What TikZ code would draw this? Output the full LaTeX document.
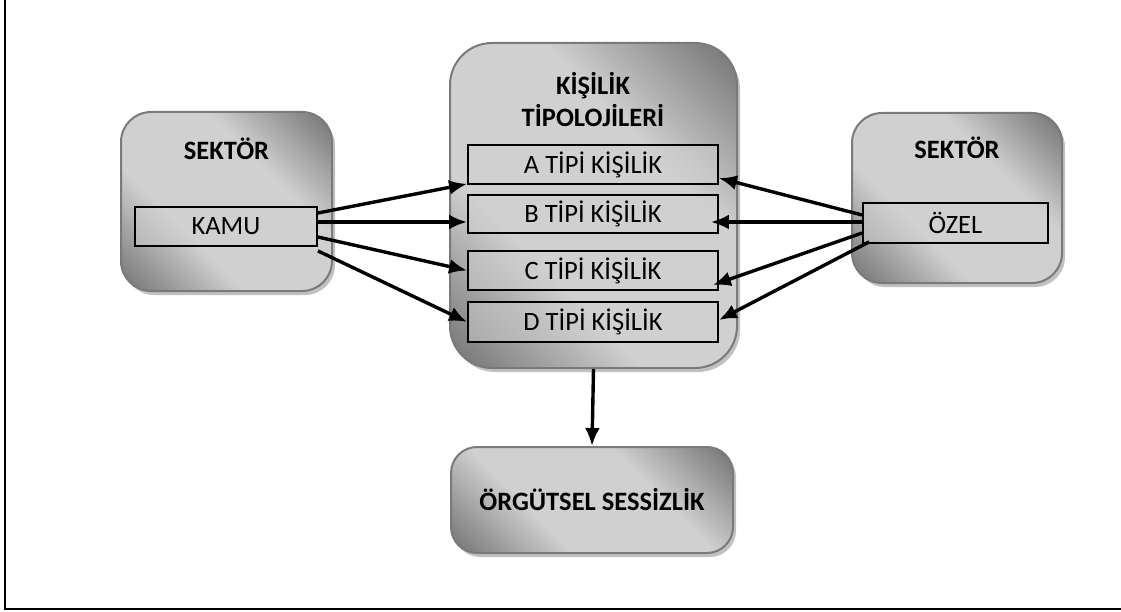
\documentclass[tikz,border=0pt]{standalone}
\usepackage{fontspec}
\setmainfont{Carlito}
\usetikzlibrary{arrows.meta,shadows}

\definecolor{gdark}{HTML}{666666}
\definecolor{glight}{HTML}{D0D0D0}
\definecolor{gedge}{HTML}{7A7A7A}

% diagonal grey gradient: dark corners, broad light middle band
\pgfdeclarehorizontalshading{greybox}{100bp}{%
  color(0bp)=(gdark); color(12bp)=(gdark); color(37bp)=(glight);
  color(63bp)=(glight); color(88bp)=(gdark); color(100bp)=(gdark)}

\tikzset{
  outerbox/.style={draw=gedge, line width=2pt, shading=greybox, shading angle=45,
    drop shadow={shadow xshift=3pt, shadow yshift=-4pt, fill=black!30, opacity=0.8},
    font=\fontsize{26.5}{31}\selectfont\bfseries, inner sep=0pt},
  innerbox/.style={draw=black, line width=1.8pt, fill=glight, fill opacity=0.5,
    text opacity=1, font=\fontsize{26.5}{31}\selectfont, inner sep=0pt},
  title/.style={font=\fontsize{26.5}{31}\selectfont\bfseries, inner sep=0pt},
  arr/.style={draw=black, line width=3.4pt, -{Latex[length=18pt,width=15pt]}},
}

\begin{document}
\begin{tikzpicture}[x=1pt, y=-1pt]
  \useasboundingbox (0,0) rectangle (1121,612);
  % page frame (top and right edges fall outside)
  \draw[line width=2.5pt] (5,-20) -- (5,609) -- (1140,609);

  % left sector
  \node[outerbox, rounded corners=30pt, minimum width=211pt, minimum height=179pt] (left) at (226.5,201.5) {};
  \node[title] (lefttitle) at (226.5,149) {SEKTÖR};
  \node[innerbox, minimum width=182pt, minimum height=39pt] (kamu) at (226,226.5) {KAMU};

  % centre: personality typologies
  \node[outerbox, rounded corners=42pt, minimum width=287pt, minimum height=325pt] (mid) at (593.5,205.5) {};
  \node[title] (midtitle1) at (593,86) {KİŞİLİK};
  \node[title] (midtitle2) at (593,116) {TİPOLOJİLERİ};
  \node[innerbox, minimum width=250pt, minimum height=39pt] (a) at (593,164.5) {A TİPİ KİŞİLİK};
  \node[innerbox, minimum width=250pt, minimum height=38pt] (b) at (593,214) {B TİPİ KİŞİLİK};
  \node[innerbox, minimum width=250pt, minimum height=39pt] (c) at (593,270.5) {C TİPİ KİŞİLİK};
  \node[innerbox, minimum width=250pt, minimum height=40pt] (d) at (593,322) {D TİPİ KİŞİLİK};

  % right sector
  \node[outerbox, rounded corners=30pt, minimum width=210pt, minimum height=170pt] (right) at (957,198) {};
  \node[title] (righttitle) at (957,148) {SEKTÖR};
  \node[innerbox, minimum width=185pt, minimum height=40pt] (ozel) at (955.5,223) {ÖZEL};

  % result
  \node[outerbox, rounded corners=26pt, minimum width=282pt, minimum height=106pt] (sessizlik) at (592,500) {ÖRGÜTSEL SESSİZLİK};

  % connectors from the public sector
  \draw[arr] ([yshift=13.5pt]kamu.east) -- ([yshift=1pt]a.south west);
  \draw[arr] ([yshift=4.5pt]kamu.east) -- ([yshift=-8pt]b.west);
  \draw[arr] ([yshift=-10.5pt]kamu.east) -- (c.west);
  \draw[arr] ([yshift=-4pt]kamu.south east) -- (d.west);

  % connectors from the private sector
  \draw[arr] ([yshift=8pt]ozel.west) -- ([yshift=-13.5pt]a.east);
  \draw[arr] ([yshift=1pt]ozel.west) -- ([xshift=-8pt,yshift=-8pt]b.east);
  \draw[arr] ([yshift=-10pt]ozel.west) -- ([xshift=-6pt,yshift=-14.5pt]c.east);
  \draw[arr] ([xshift=7pt,yshift=2pt]ozel.south west) -- ([yshift=2pt]d.east);

  % typologies lead to organisational silence
  \draw[arr] (mid.south) -- (sessizlik.north);
\end{tikzpicture}
\end{document}
